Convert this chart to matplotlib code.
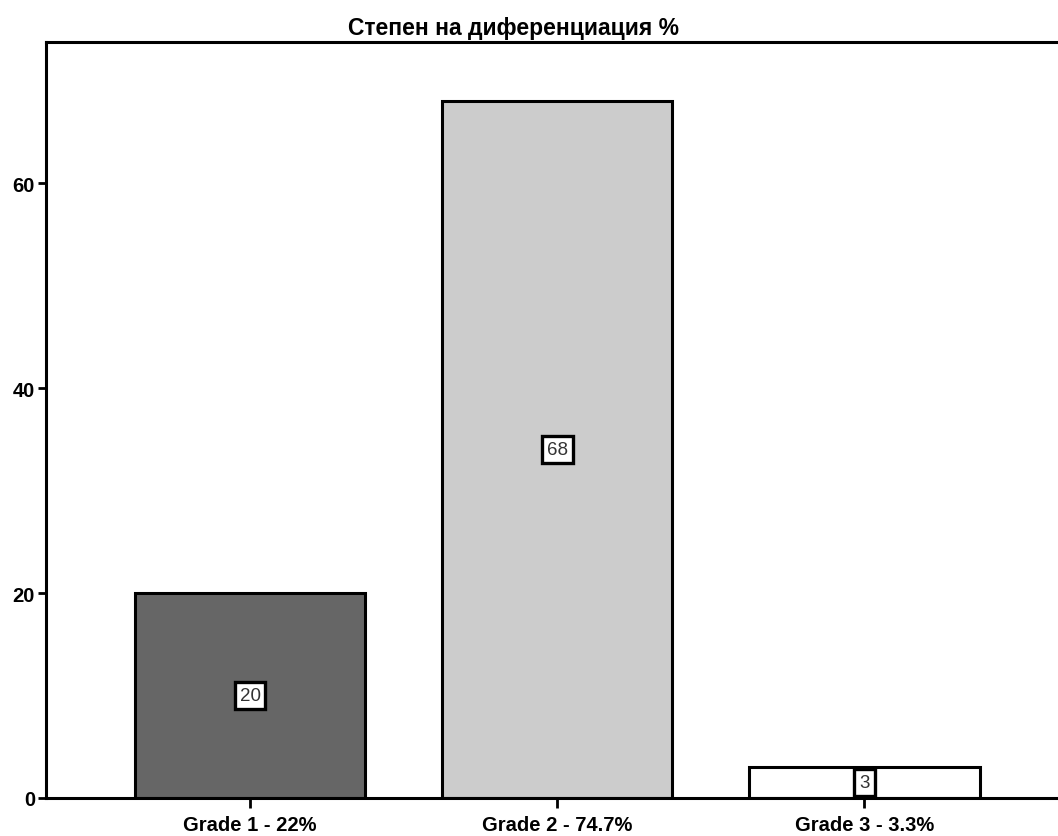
import matplotlib.pyplot as plt

categories = ['Grade 1 - 22%', 'Grade 2 - 74.7%', 'Grade 3 - 3.3%']
counts = [20, 68, 3]
bar_colors = ['#666666', '#cccccc', '#ffffff']
y_ticks = [0, 20, 40, 60]
title = 'Степен на диференциация %'

plt.rcParams['font.family'] = ['Liberation Sans Narrow', 'Liberation Sans', 'DejaVu Sans']

fig = plt.figure(figsize=(10.58, 8.37), dpi=100)
ax = fig.add_axes([46 / 1058, 1 - 799 / 837, 1 - 46 / 1058 + 0.01, (799 - 43) / 837])

x = list(range(len(categories)))
ax.bar(x, counts, width=0.75, color=bar_colors, edgecolor='black', linewidth=2.2, zorder=2)

for xi, c in zip(x, counts):
    ax.text(xi, c / 2, str(c), ha='center', va='center', fontsize=13.5,
            family=['Liberation Sans', 'DejaVu Sans'], color='#333333', zorder=3,
            bbox=dict(boxstyle='square,pad=0.26', facecolor='white', edgecolor='black', linewidth=2.4))

ax.set_xlim(-0.6645, -0.6645 + 1022 / 307)
ax.set_ylim(0, 73.8)
ax.set_xticks(x)
ax.set_xticklabels(categories, fontsize=14.5, fontweight='bold')
ax.set_yticks(y_ticks)
ax.set_yticklabels([str(t) for t in y_ticks], fontsize=14.5, fontweight='bold')
ax.tick_params(axis='y', direction='out', length=6, width=2, pad=2)
ax.tick_params(axis='x', direction='out', length=7, width=2, pad=5)

for side in ['left', 'top', 'bottom']:
    ax.spines[side].set_linewidth(2.2)
ax.spines['right'].set_visible(False)

fig.text(514 / 1058, 1 - 28 / 837, title, ha='center', va='center', fontsize=16.5, fontweight='bold')

fig.savefig('out.png', dpi=100)
